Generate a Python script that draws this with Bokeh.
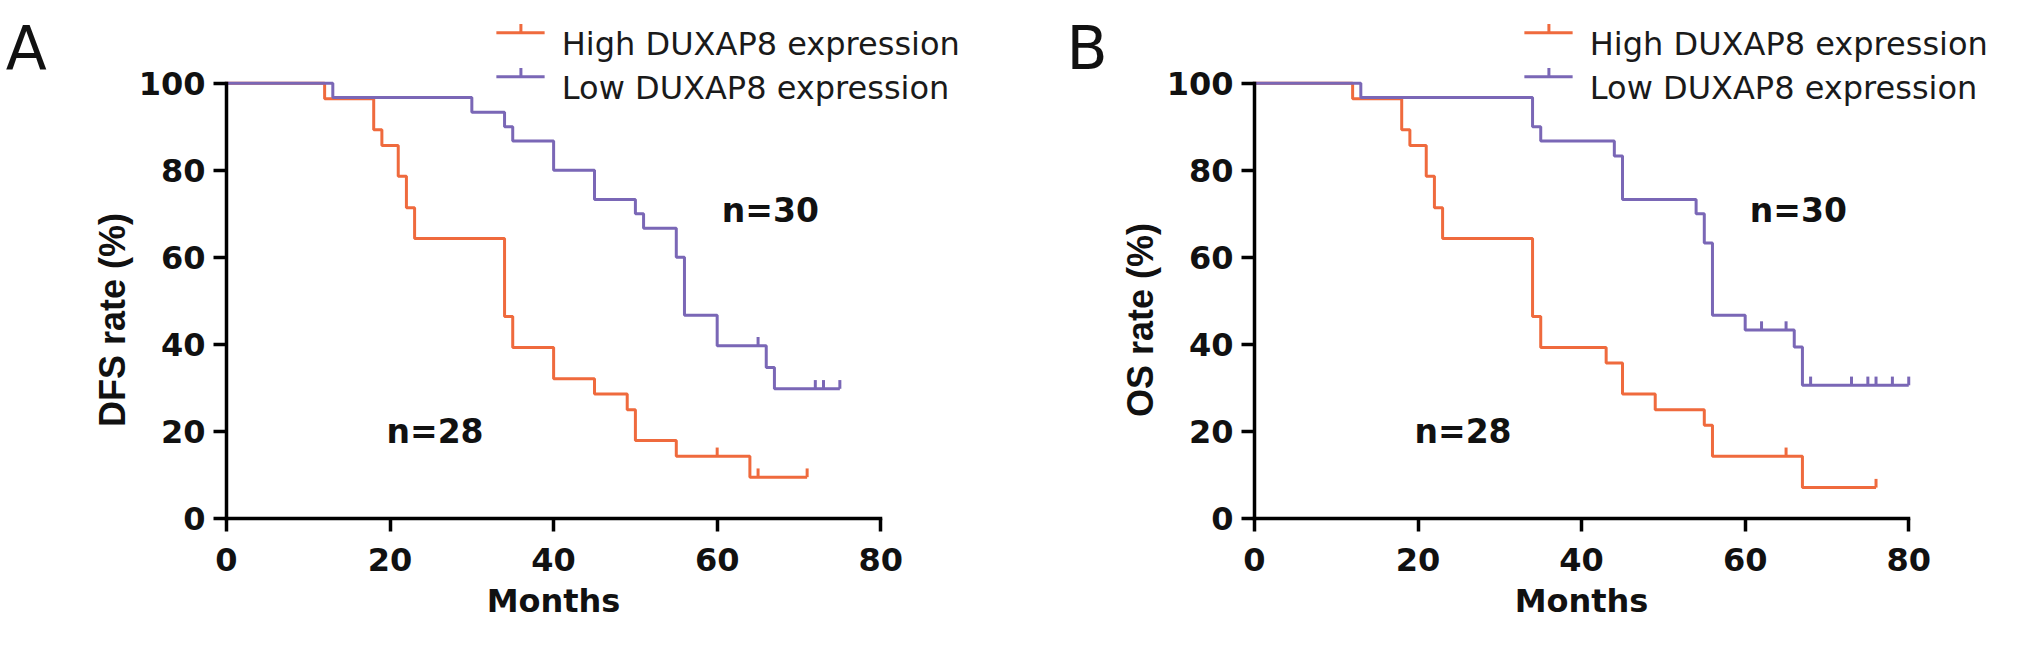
import numpy as np
from bokeh.plotting import figure
from bokeh.layouts import row
from bokeh.models import Range1d, Label, FixedTicker
from bokeh.core.properties import value
from bokeh.embed import file_html
from bokeh.resources import INLINE

month_ticks = [0, 20, 40, 60, 80]
rate_ticks = [0, 20, 40, 60, 80, 100]
group_names = ["High DUXAP8 expression", "Low DUXAP8 expression"]

# A: disease-free survival (step times in months, survival in %)
dfs_high_t = [0, 12, 18, 19, 21, 22, 23, 34, 35, 40, 45, 49, 50, 55, 64, 71]
dfs_high_s = [100, 96.4, 89.3, 85.7, 78.6, 71.4, 64.3, 46.4, 39.3, 32.1, 28.6, 25.0, 17.9, 14.3, 9.5, 9.5]
dfs_high_cens = [60, 65, 71]

dfs_low_t = [0, 13, 30, 34, 35, 40, 45, 50, 51, 55, 56, 60, 66, 67, 75]
dfs_low_s = [100, 96.7, 93.3, 90.0, 86.7, 80.0, 73.3, 70.0, 66.7, 60.0, 46.7, 39.7, 34.7, 29.8, 29.8]
dfs_low_cens = [65, 72, 73, 75]

# B: overall survival
os_high_t = [0, 12, 18, 19, 21, 22, 23, 34, 35, 43, 45, 49, 55, 56, 67, 76]
os_high_s = [100, 96.4, 89.3, 85.7, 78.6, 71.4, 64.3, 46.4, 39.3, 35.7, 28.6, 25.0, 21.4, 14.3, 7.1, 7.1]
os_high_cens = [65, 76]

os_low_t = [0, 13, 34, 35, 44, 45, 54, 55, 56, 60, 66, 67, 80]
os_low_s = [100, 96.7, 90.0, 86.7, 83.3, 73.3, 70.0, 63.3, 46.7, 43.3, 39.4, 30.6, 30.6]
os_low_cens = [62, 65, 68, 73, 75, 76, 78, 80]

n_high = "n=28"
n_low = "n=30"

ORANGE = "#EF6A3D"
PURPLE = "#7A67B6"
TICK_H = 2.0      # censor mark height, in % units
PX_MONTH = 8.178  # pixels per month
PX_PCT = 4.353    # pixels per percent
HEIGHT = 630
ORIGIN_Y = 112    # pixels below the x axis


def censor_levels(t, s, cens):
    idx = np.searchsorted(t, cens, side="right") - 1
    return np.asarray(s)[idx]


def km_panel(letter, letter_x, ylabel, curves, width, origin_x):
    # the frame fills the whole figure; axes are pinned at x=0 / y=0
    p = figure(width=width, height=HEIGHT,
               x_range=Range1d(-origin_x / PX_MONTH, (width - origin_x) / PX_MONTH),
               y_range=Range1d(-ORIGIN_Y / PX_PCT, (HEIGHT - ORIGIN_Y) / PX_PCT),
               output_backend="svg", toolbar_location=None,
               min_border=0)
    p.outline_line_color = None
    p.grid.visible = False

    for t, s, cens, color in curves:
        p.step(t, s, mode="after", line_color=color, line_width=3)
        lev = censor_levels(t, s, cens)
        p.segment(x0=cens, y0=lev, x1=cens, y1=lev + TICK_H, line_color=color, line_width=3)

    # legend drawn above the curves
    leg_y = [111.6, 101.5]
    leg_colors = [ORANGE, PURPLE]
    p.segment(x0=[33.0, 33.0], y0=leg_y, x1=[38.9, 38.9], y1=leg_y,
              line_color=leg_colors, line_width=3)
    p.segment(x0=[36.0, 36.0], y0=leg_y, x1=[36.0, 36.0], y1=[y + TICK_H for y in leg_y],
              line_color=leg_colors, line_width=3)
    p.text(x=[41.0, 41.0], y=[y - 2.55 for y in leg_y], text=group_names,
           text_font=value("DejaVu Sans"), text_font_size="32px",
           text_color="#1a1a1a", text_baseline="alphabetic")

    p.add_layout(Label(x=66.5, y=70.7, text=n_low, text_align="center",
                       text_baseline="alphabetic",
                       text_font="DejaVu Sans", text_font_style="bold",
                       text_font_size="33px", text_color="#111111"))
    p.add_layout(Label(x=25.5, y=20.0, text=n_high, text_align="center",
                       text_baseline="alphabetic",
                       text_font="DejaVu Sans", text_font_style="bold",
                       text_font_size="33px", text_color="#111111"))

    p.add_layout(Label(x=-14.0, y=45.6, text=ylabel, angle=np.pi / 2,
                       text_align="center", text_baseline="alphabetic",
                       text_font="Liberation Sans", text_font_style="bold",
                       text_font_size="36px", text_color="#111111"))
    p.add_layout(Label(x=letter_x, y=108.0, text=letter, text_baseline="alphabetic",
                       text_font="DejaVu Sans", text_font_size="60px",
                       text_color="#111111"))

    p.xaxis.fixed_location = 0
    p.yaxis.fixed_location = 0
    p.xaxis.ticker = FixedTicker(ticks=month_ticks)
    p.yaxis.ticker = FixedTicker(ticks=rate_ticks)
    p.xaxis.bounds = (0, 80)
    p.yaxis.bounds = (0, 100)
    p.axis.axis_line_width = 3.5
    p.axis.axis_line_cap = "square"
    p.axis.major_tick_line_width = 3.5
    p.axis.major_tick_out = 13
    p.axis.major_tick_in = 0
    p.axis.minor_tick_line_color = None
    p.axis.major_label_text_font = "DejaVu Sans"
    p.axis.major_label_text_font_style = "bold"
    p.axis.major_label_text_font_size = "32px"
    p.axis.major_label_text_color = "#111111"
    p.xaxis.major_label_standoff = 16
    p.yaxis.major_label_standoff = 8

    p.xaxis.axis_label = "Months"
    p.xaxis.axis_label_standoff = 8
    p.xaxis.axis_label_text_font = "DejaVu Sans"
    p.xaxis.axis_label_text_font_style = "bold"
    p.xaxis.axis_label_text_font_size = "32px"
    p.xaxis.axis_label_text_color = "#111111"
    return p


pa = km_panel("A", -27.0, "DFS rate (%)",
              [(dfs_high_t, dfs_high_s, dfs_high_cens, ORANGE),
               (dfs_low_t, dfs_low_s, dfs_low_cens, PURPLE)],
              width=962, origin_x=226)
pb = km_panel("B", -23.0, "OS rate (%)",
              [(os_high_t, os_high_s, os_high_cens, ORANGE),
               (os_low_t, os_low_s, os_low_cens, PURPLE)],
              width=1038, origin_x=292)

layout = row(pa, pb)
open("out.html", "w").write(file_html(layout, INLINE))
